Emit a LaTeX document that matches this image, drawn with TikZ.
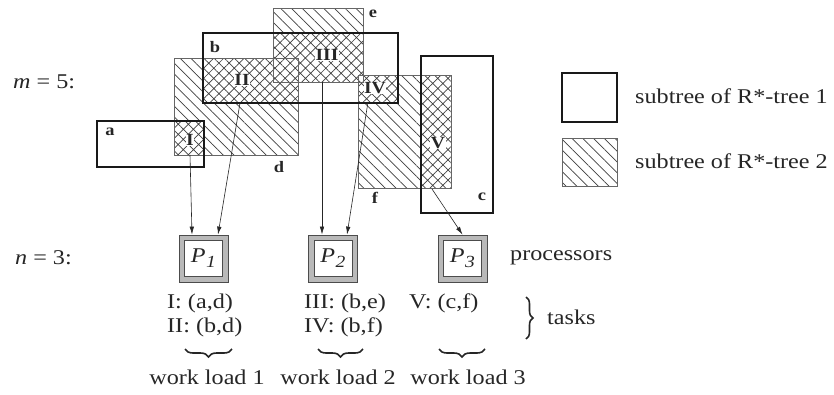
\documentclass[tikz,border=0pt]{standalone}
\usepackage{fontspec}
\setmainfont{Liberation Serif}[FakeStretch=1.15]
\usetikzlibrary{patterns.meta,arrows.meta,decorations.pathreplacing}
\begin{document}
\begin{tikzpicture}[x=1pt,y=-1pt,
  txt/.style={font=\fontsize{21}{24}\selectfont, text=black!85, inner sep=0pt},
  lbl/.style={font=\fontsize{16}{18}\selectfont\bfseries, text=black!85, inner sep=0pt},
  rom/.style={font=\fontsize{17}{19}\selectfont\bfseries, text=black!85, fill=white, inner sep=0.6pt},
  treeone/.style={draw=black!90, line width=2.6pt},
  treetwoline/.style={draw=black!60, line width=0.7pt},
  treetwofill/.style={pattern={Lines[angle=-45,distance=7.6pt,line width=0.7pt]}, pattern color=black!75},
  crossfill/.style={pattern={Hatch[angle=45,distance=7.2pt,line width=0.7pt]}, pattern color=black!75},
  proc/.style={draw=gray!60!black, fill=gray!55, line width=0.8pt, minimum width=49pt, minimum height=47pt,
    inner sep=0pt, font=\fontsize{21}{24}\selectfont, text=black!85,
    path picture={\draw[gray!60!black, line width=0.8pt, fill=white]
      ([shift={(5.5pt,-5.5pt)}]path picture bounding box.north west) rectangle
      ([shift={(-5.5pt,5.5pt)}]path picture bounding box.south east);}},
  arr/.style={draw=black!85, line width=0.6pt, -{Latex[length=8pt,width=4.5pt]}},
  brc/.style={draw=black!85, line width=1.6pt, decorate}
]
\useasboundingbox (0,0) rectangle (834,394);
\fill[white] (0,0) rectangle (834,394);

% rectangle corners
\coordinate (a1) at (97,121);  \coordinate (a2) at (204,167);
\coordinate (b1) at (203,33);  \coordinate (b2) at (398,103);
\coordinate (c1) at (421,56);  \coordinate (c2) at (493,213);
\coordinate (d1) at (174,58);  \coordinate (d2) at (298,155);
\coordinate (e1) at (273,8);   \coordinate (e2) at (363,82);
\coordinate (f1) at (358,75);  \coordinate (f2) at (451,188);

% tree 2 hatching
\path[treetwofill] (d1) rectangle (d2);
\path[treetwofill] (e1) rectangle (e2);
\path[treetwofill] (f1) rectangle (f2);

% intersections
\foreach \p/\q in {{(174,121)}/{(204,155)},{(203,58)}/{(298,103)},{(273,33)}/{(363,82)},{(358,75)}/{(398,103)},{(421,75)}/{(451,188)}}{
  \fill[white] \p rectangle \q;
  \path[crossfill] \p rectangle \q;
}

% tree 2 borders
\draw[treetwoline] (d1) rectangle (d2);
\draw[treetwoline] (e1) rectangle (e2);
\draw[treetwoline] (f1) rectangle (f2);

% tree 1 borders
\draw[treeone] (a1) rectangle (a2);
\draw[treeone] (b1) rectangle (b2);
\draw[treeone] (c1) rectangle (c2);

% letter labels
\node[lbl] (la) at (110,132) {a};
\node[lbl] (lb) at (215,47) {b};
\node[lbl] (lc) at (482,197) {c};
\node[lbl] (ld) at (279,167) {d};
\node[lbl] (le) at (373,14) {e};
\node[lbl] (lf) at (375,198) {f};

% task labels
\node[rom] (rI) at (190,140) {I};
\node[rom] (rII) at (242,80) {II};
\node[rom] (rIII) at (327,55) {III};
\node[rom] (rIV) at (375,88) {IV};
\node[rom] (rV) at (438,143) {V};

% left labels
\node[txt, anchor=west] (m) at (13,82) {\textit{m} = 5:};
\node[txt, anchor=west] (n) at (15,258) {\textit{n} = 3:};

% processors
\node[proc] (P1) at (203.5,258.5) {\textit{P\kern0.5pt\raisebox{-5pt}{\fontsize{17}{17}\selectfont 1}}};
\node[proc] (P2) at (333,258.5) {\textit{P\kern0.5pt\raisebox{-5pt}{\fontsize{17}{17}\selectfont 2}}};
\node[proc] (P3) at (462.5,258.5) {\textit{P\kern0.5pt\raisebox{-5pt}{\fontsize{17}{17}\selectfont 3}}};
\node[txt, anchor=west] (procs) at (510,258) {processors};

% arrow starts
\coordinate (sI) at (190,155);
\coordinate (sII) at (240,103);
\coordinate (sIII) at (322,82);
\coordinate (sIV) at (368,102);
\coordinate (sV) at (432,189);
\draw[arr] (sI) -- ([xshift=-11.5pt]P1.north);
\draw[arr] (sII) -- ([xshift=14.5pt]P1.north);
\draw[arr] (sIII) -- ([xshift=-11pt]P2.north);
\draw[arr] (sIV) -- ([xshift=14pt]P2.north);
\draw[arr] (sV) -- (P3.north);

% tasks
\node[txt, anchor=west] (t1) at (167,303) {I: (a,d)};
\node[txt, anchor=west] (t2) at (167,327) {II: (b,d)};
\node[txt, anchor=west] (t3) at (304,303) {III: (b,e)};
\node[txt, anchor=west] (t4) at (304,327) {IV: (b,f)};
\node[txt, anchor=west] (t5) at (409,303) {V: (c,f)};
\coordinate (bt) at (526,297);
\coordinate (bb) at (526,339);
\draw[brc, decoration={brace, amplitude=7pt}] (bt) -- (bb);
\node[txt, anchor=west] (tasks) at (547,317) {tasks};

% work loads
\coordinate (w1r) at (232,349); \coordinate (w1l) at (185,349);
\coordinate (w2r) at (363,349); \coordinate (w2l) at (318,349);
\coordinate (w3r) at (485,349); \coordinate (w3l) at (439,349);
\draw[brc, decoration={brace, amplitude=8pt}] (w1r) -- (w1l);
\draw[brc, decoration={brace, amplitude=8pt}] (w2r) -- (w2l);
\draw[brc, decoration={brace, amplitude=8pt}] (w3r) -- (w3l);
\node[txt] (wl1) at (207,377) {work load 1};
\node[txt] (wl2) at (338,377) {work load 2};
\node[txt] (wl3) at (468,377) {work load 3};

% legend
\draw[treeone] (562,73) rectangle (617,122);
\path[treetwofill] (562,138) rectangle (617,186);
\draw[treetwoline] (562,138) rectangle (617,186);
\node[txt, anchor=west] (leg1) at (635,96) {subtree of R*-tree 1};
\node[txt, anchor=west] (leg2) at (635,161) {subtree of R*-tree 2};
\end{tikzpicture}
\end{document}
